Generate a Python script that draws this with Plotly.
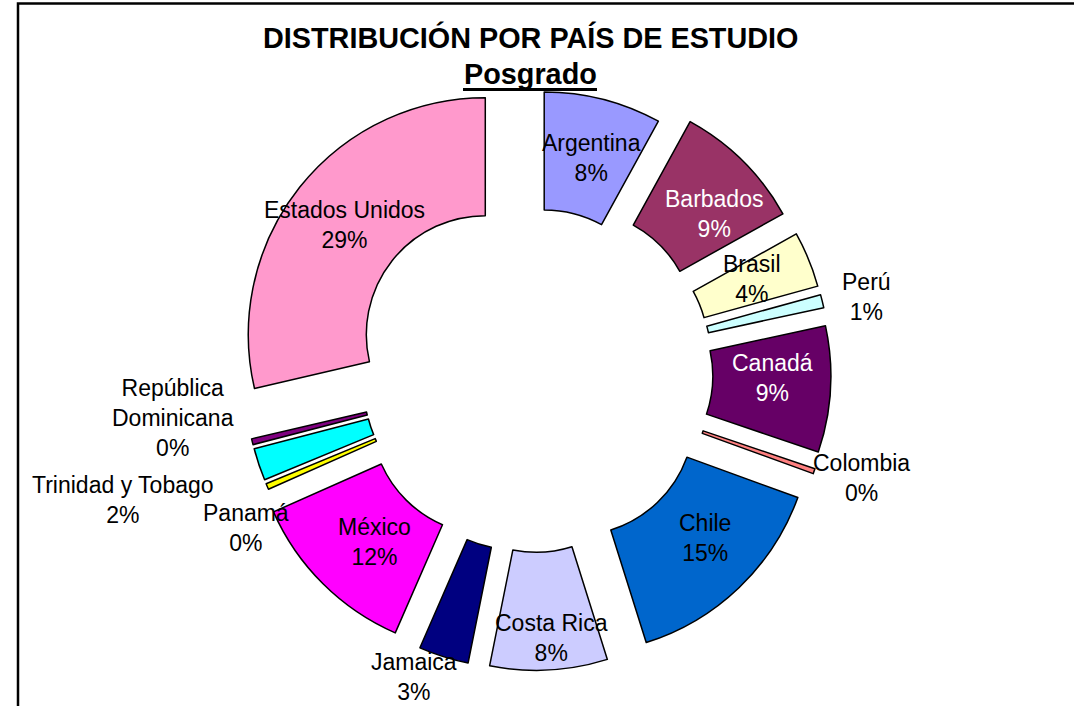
import math
import plotly.graph_objects as go

# ---------------- data ----------------
countries = ["Argentina", "Barbados", "Brasil", "Perú", "Canadá", "Colombia", "Chile",
             "Costa Rica", "Jamaica", "México", "Panamá", "Trinidad y Tobago",
             "República Dominicana", "Estados Unidos"]
label_text = ["Argentina", "Barbados", "Brasil", "Perú", "Canadá", "Colombia", "Chile",
              "Costa Rica", "Jamaica", "México", "Panamá", "Trinidad y Tobago",
              "República<br>Dominicana", "Estados Unidos"]
# shares in percent (labels show them rounded)
values = [8.0, 8.9, 3.8, 0.9, 8.6, 0.35, 14.6, 8.0, 3.4, 11.8, 0.4, 2.2, 0.4, 28.65]

title_main = "DISTRIBUCIÓN POR PAÍS DE ESTUDIO"
title_sub = "Posgrado"

# ---------------- style ----------------
colors = ["#9999FF", "#993366", "#FFFFCC", "#CCFFFF", "#660066", "#FF8080", "#0066CC",
          "#CCCCFF", "#000080", "#FF00FF", "#FFFF00", "#00FFFF", "#800080", "#FF99CC"]
text_colors = ["black", "white", "black", "black", "white", "black", "black",
               "black", "black", "black", "black", "black", "black", "black"]
pulls = [0.19, 0.257, 0.257, 0.257, 0.257, 0.257, 0.257,
         0.257, 0.257, 0.257, 0.22, 0.22, 0.22, 0.257]
# label placement: anchor pull, radius (fraction of pie radius) and angular nudge (deg)
label_pull = [0.19, 0.257, 0.257, 0.257, 0.257, 0.257, 0.257,
              0.257, 0.257, 0.257, 0.257, 0.257, 0.257, 0.257]
label_r = [0.748, 0.759, 0.749, 1.186, 0.756, 1.20, 0.75, 0.866, 1.123, 0.723,
           1.123, 1.554, 1.276, 0.754]
label_dang = [1.1, 5.3, -1.0, 1.3, -2.6, -1.9, -3.2, -1.2, 4.8, -2.2, -6.4, 1.5, 7.9, -0.6]

W, H = 1074, 706
CX, CY = 533, 372.5        # pie centre (px)
RADIUS = 237               # outer radius (px)
HOLE = 0.502
FONT = "Arial, Liberation Sans, sans-serif"

MAXPULL = max(pulls)
BOX = 2 * RADIUS * (1 + MAXPULL)

fig = go.Figure()
fig.add_trace(go.Pie(
    labels=countries, values=values, sort=False, direction="clockwise", rotation=0,
    hole=HOLE, pull=pulls,
    marker=dict(colors=colors, line=dict(color="black", width=1.5)),
    textinfo="none", hoverinfo="skip", showlegend=False,
    domain=dict(x=[(CX - BOX / 2) / W, (CX + BOX / 2) / W],
                y=[1 - (CY + BOX / 2) / H, 1 - (CY - BOX / 2) / H]),
))

total = sum(values)
cum = 0.0
annotations = []
for i, v in enumerate(values):
    mid = 2 * math.pi * (cum + v / 2) / total
    cum += v
    d = label_pull[i] * RADIUS
    sx = CX + d * math.sin(mid)
    sy = CY - d * math.cos(mid)
    la = mid + math.radians(label_dang[i])
    px = sx + label_r[i] * RADIUS * math.sin(la)
    py = sy - label_r[i] * RADIUS * math.cos(la)
    pct = f"{round(v / total * 100):.0f}%"
    annotations.append(dict(
        x=px / W, y=1 - py / H, xref="paper", yref="paper",
        text=f"{label_text[i]}<br>{pct}", showarrow=False,
        xanchor="center", yanchor="middle", align="center",
        font=dict(family=FONT, size=23, color=text_colors[i]),
    ))

annotations.append(dict(x=530 / W, y=1 - 38 / H, xref="paper", yref="paper",
                        text=f"<b>{title_main}</b>", showarrow=False,
                        xanchor="center", yanchor="middle",
                        font=dict(family=FONT, size=28.8, color="black")))
annotations.append(dict(x=530 / W, y=1 - 74 / H, xref="paper", yref="paper",
                        text=f"<b>{title_sub}</b>", showarrow=False,
                        xanchor="center", yanchor="middle",
                        font=dict(family=FONT, size=28.8, color="black")))

shapes = [
    dict(type="line", xref="paper", yref="paper", x0=463 / W, x1=597 / W,
         y0=1 - 89.5 / H, y1=1 - 89.5 / H, line=dict(color="black", width=3)),
    dict(type="rect", xref="paper", yref="paper", x0=18 / W, x1=1.05,
         y0=-0.05, y1=1 - 3.5 / H, line=dict(color="black", width=2.5)),
]

fig.update_layout(
    width=W, height=H, margin=dict(l=0, r=0, t=0, b=0),
    paper_bgcolor="white", plot_bgcolor="white",
    annotations=annotations, shapes=shapes,
)

fig.write_html("out.html", config={"displayModeBar": False},
               post_script="document.body.style.margin='0';")
